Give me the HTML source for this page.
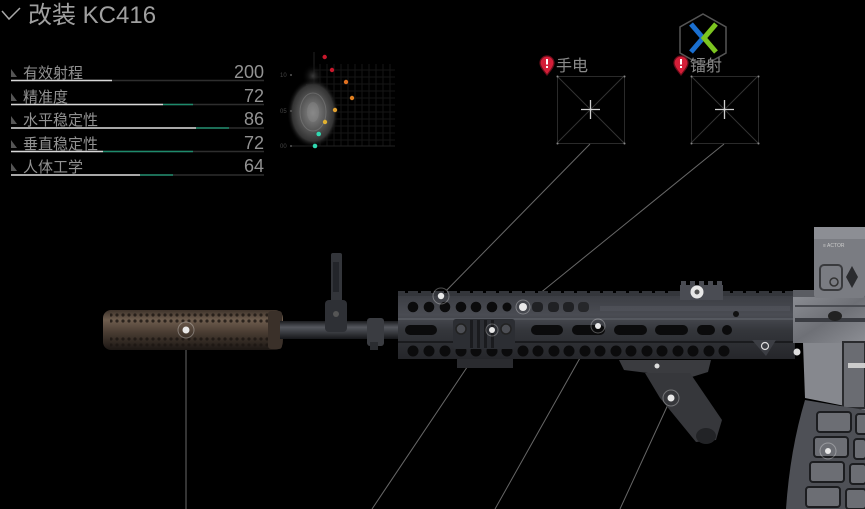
<!DOCTYPE html>
<html><head><meta charset="utf-8"><style>
html,body{margin:0;padding:0;background:#000;width:865px;height:509px;overflow:hidden}
svg{display:block}
</style></head><body>
<svg width="865" height="509" viewBox="0 0 865 509" xmlns="http://www.w3.org/2000/svg" font-family="'Liberation Sans','Noto Sans CJK SC',sans-serif">
<defs>
<linearGradient id="sup" x1="0" y1="0" x2="0" y2="1">
<stop offset="0" stop-color="#3e332b"/><stop offset="0.25" stop-color="#6e5d4e"/><stop offset="0.55" stop-color="#4a3d33"/><stop offset="1" stop-color="#1c1714"/></linearGradient>
<linearGradient id="brl" x1="0" y1="0" x2="0" y2="1">
<stop offset="0" stop-color="#1a1b1e"/><stop offset="0.35" stop-color="#55585e"/><stop offset="1" stop-color="#16171a"/></linearGradient>
<linearGradient id="hg" x1="0" y1="0" x2="0" y2="1">
<stop offset="0" stop-color="#3c3e44"/><stop offset="0.3" stop-color="#4a4c53"/><stop offset="0.55" stop-color="#34363b"/><stop offset="1" stop-color="#25262a"/></linearGradient>
<linearGradient id="rcv" x1="0" y1="0" x2="1" y2="1">
<stop offset="0" stop-color="#8a8c92"/><stop offset="0.5" stop-color="#6e7076"/><stop offset="1" stop-color="#8c8e94"/></linearGradient>
<pattern id="dots" width="6" height="6" patternUnits="userSpaceOnUse"><circle cx="3" cy="3" r="1.6" fill="#1c1612"/></pattern>
<radialGradient id="body" cx="0.5" cy="0.5" r="0.5">
<stop offset="0" stop-color="#8a8a8a"/><stop offset="0.45" stop-color="#5a5a5a"/><stop offset="0.8" stop-color="#333"/><stop offset="1" stop-color="#000" stop-opacity="0"/></radialGradient>
<radialGradient id="head" cx="0.5" cy="0.5" r="0.5">
<stop offset="0" stop-color="#3a3a3a"/><stop offset="1" stop-color="#000" stop-opacity="0"/></radialGradient>
</defs>

<!-- title -->
<polyline points="2,11 9,19 20,8" fill="none" stroke="#a8a8a8" stroke-width="1.5"/>
<text x="28" y="23" font-size="24" fill="#a0a0a0">改装 KC416</text>

<!-- stats -->
<g font-size="15" fill="#929292">
<g fill="#555">
<polygon points="11,69 11,77 17,77"/><polygon points="11,93 11,101 17,101"/><polygon points="11,116 11,124 17,124"/><polygon points="11,140 11,148 17,148"/><polygon points="11,163 11,171 17,171"/>
</g>
<text x="23" y="78">有效射程</text>
<text x="23" y="102">精准度</text>
<text x="23" y="125">水平稳定性</text>
<text x="23" y="149">垂直稳定性</text>
<text x="23" y="172">人体工学</text>
<g font-size="18" text-anchor="end">
<text x="264" y="78">200</text><text x="264" y="102">72</text><text x="264" y="125">86</text><text x="264" y="149">72</text><text x="264" y="172">64</text>
</g>
</g>
<g stroke-width="1.6">
<line x1="11" y1="80.5" x2="264" y2="80.5" stroke="#2e2e2e"/><line x1="11" y1="80.5" x2="112" y2="80.5" stroke="#d8d8d8"/>
<line x1="11" y1="104.5" x2="264" y2="104.5" stroke="#2e2e2e"/><line x1="11" y1="104.5" x2="163" y2="104.5" stroke="#d8d8d8"/><line x1="163" y1="104.5" x2="193" y2="104.5" stroke="#1e8a6c"/>
<line x1="11" y1="128" x2="264" y2="128" stroke="#2e2e2e"/><line x1="11" y1="128" x2="196" y2="128" stroke="#d8d8d8"/><line x1="196" y1="128" x2="229" y2="128" stroke="#1e8a6c"/>
<line x1="11" y1="151.5" x2="264" y2="151.5" stroke="#2e2e2e"/><line x1="11" y1="151.5" x2="103" y2="151.5" stroke="#d8d8d8"/><line x1="103" y1="151.5" x2="193" y2="151.5" stroke="#1e8a6c"/>
<line x1="11" y1="175" x2="264" y2="175" stroke="#2e2e2e"/><line x1="11" y1="175" x2="140" y2="175" stroke="#d8d8d8"/><line x1="140" y1="175" x2="173" y2="175" stroke="#1e8a6c"/>
</g>

<!-- recoil chart -->
<g stroke="#161616" stroke-width="1">
<line x1="320" y1="64" x2="320" y2="146"/><line x1="327" y1="64" x2="327" y2="146"/><line x1="334" y1="64" x2="334" y2="146"/><line x1="341" y1="64" x2="341" y2="146"/><line x1="348" y1="64" x2="348" y2="146"/><line x1="355" y1="64" x2="355" y2="146"/><line x1="362" y1="64" x2="362" y2="146"/><line x1="369" y1="64" x2="369" y2="146"/><line x1="376" y1="64" x2="376" y2="146"/><line x1="383" y1="64" x2="383" y2="146"/><line x1="390" y1="64" x2="390" y2="146"/>
<line x1="314" y1="70" x2="395" y2="70"/><line x1="314" y1="77" x2="395" y2="77"/><line x1="314" y1="84" x2="395" y2="84"/><line x1="314" y1="91" x2="395" y2="91"/><line x1="314" y1="98" x2="395" y2="98"/><line x1="314" y1="105" x2="395" y2="105"/><line x1="314" y1="112" x2="395" y2="112"/><line x1="314" y1="119" x2="395" y2="119"/><line x1="314" y1="126" x2="395" y2="126"/><line x1="314" y1="133" x2="395" y2="133"/><line x1="314" y1="140" x2="395" y2="140"/>
</g>
<line x1="314" y1="52" x2="314" y2="146" stroke="#222"/>
<line x1="291" y1="146" x2="395" y2="146" stroke="#222"/>
<ellipse cx="313" cy="76" rx="11" ry="12" fill="url(#head)"/>
<rect x="306" y="84" width="14" height="10" fill="#2a2a2a" opacity="0.6"/>
<ellipse cx="313" cy="113" rx="26" ry="35" fill="url(#body)"/>
<ellipse cx="313" cy="112" rx="13" ry="19" fill="none" stroke="#9a9a9a" stroke-width="1" opacity="0.35"/>
<ellipse cx="313" cy="112" rx="6" ry="10" fill="#888" opacity="0.45"/>
<g font-size="6" fill="#444"><text x="280" y="77">10</text><text x="280" y="113">05</text><text x="280" y="148">00</text></g>
<g fill="#555"><circle cx="291" cy="75" r="1"/><circle cx="291" cy="111" r="1"/><circle cx="291" cy="146" r="1"/></g>
<circle cx="324.7" cy="57" r="2.2" fill="#c8182c"/>
<circle cx="332" cy="70" r="2.2" fill="#c8182c"/>
<circle cx="346" cy="82" r="2.2" fill="#e07020"/>
<circle cx="352" cy="98" r="2.2" fill="#e08020"/>
<circle cx="335" cy="110" r="2.2" fill="#e0a030"/>
<circle cx="325" cy="122" r="2.2" fill="#e0b030"/>
<circle cx="318.7" cy="134" r="2.3" fill="#30d8b0"/>
<circle cx="315" cy="146" r="2.3" fill="#30d8b0"/>

<!-- logo watermark -->
<polygon points="703,14 726,27 726,53 703,66 680,53 680,27" fill="none" stroke="#555" stroke-width="1.5"/>
<polyline points="691,24 703,38 691,52" fill="none" stroke="#1a6fd0" stroke-width="5"/>
<polyline points="716,24 704,38 716,52" fill="none" stroke="#7cc520" stroke-width="5"/>

<!-- slots -->
<g stroke="#333" stroke-width="1"><line x1="557" y1="76" x2="624" y2="143"/><line x1="624" y1="76" x2="557" y2="143"/><line x1="691" y1="76" x2="758" y2="143"/><line x1="758" y1="76" x2="691" y2="143"/></g>
<rect x="557.5" y="76.5" width="67" height="67" fill="none" stroke="#2a2a2a"/>
<rect x="691.5" y="76.5" width="67" height="67" fill="none" stroke="#2a2a2a"/>
<g fill="#888"><circle cx="557.5" cy="76.5" r="1"/><circle cx="624.5" cy="76.5" r="1"/><circle cx="557.5" cy="143.5" r="1"/><circle cx="624.5" cy="143.5" r="1"/><circle cx="691.5" cy="76.5" r="1"/><circle cx="758.5" cy="76.5" r="1"/><circle cx="691.5" cy="143.5" r="1"/><circle cx="758.5" cy="143.5" r="1"/></g>
<g stroke="#cfcfcf" stroke-width="1.3"><line x1="581" y1="109.5" x2="600" y2="109.5"/><line x1="590.5" y1="100" x2="590.5" y2="119"/><line x1="715" y1="109.5" x2="734" y2="109.5"/><line x1="724.5" y1="100" x2="724.5" y2="119"/></g>
<g font-size="16" fill="#8a8a8a"><text x="556" y="71">手电</text><text x="690" y="71">镭射</text></g>
<g>
<path d="M547,56 a7,7 0 0 1 7,7 c0,4 -4,8 -7,12 c-3,-4 -7,-8 -7,-12 a7,7 0 0 1 7,-7z" fill="#d41e38" stroke="#6a0d1a" stroke-width="1.2"/>
<rect x="546" y="59" width="2" height="5.5" fill="#fff"/><rect x="546" y="66" width="2" height="2" fill="#fff"/>
<path d="M681,56 a7,7 0 0 1 7,7 c0,4 -4,8 -7,12 c-3,-4 -7,-8 -7,-12 a7,7 0 0 1 7,-7z" fill="#d41e38" stroke="#6a0d1a" stroke-width="1.2"/>
<rect x="680" y="59" width="2" height="5.5" fill="#fff"/><rect x="680" y="66" width="2" height="2" fill="#fff"/>
</g>

<!-- connector lines -->
<g stroke="#8a8a8a" stroke-width="1" opacity="0.75">
<line x1="590" y1="144" x2="441" y2="296"/>
<line x1="724" y1="144" x2="523" y2="307"/>
<line x1="186" y1="330" x2="186" y2="509"/>
<line x1="492" y1="330" x2="372" y2="509"/>
<line x1="598" y1="326" x2="495" y2="509"/>
<line x1="671" y1="398" x2="620" y2="509"/>
</g>

<!-- suppressor -->
<rect x="103" y="310" width="180" height="40" rx="8" fill="url(#sup)"/>
<rect x="110" y="313" width="158" height="10" fill="url(#dots)" opacity="0.8"/>
<rect x="110" y="335" width="158" height="12" fill="url(#dots)" opacity="0.8"/>
<rect x="268" y="311" width="14" height="38" rx="3" fill="#3a3029"/>
<!-- barrel -->
<rect x="280" y="321" width="122" height="18" fill="url(#brl)"/>
<!-- front sight -->
<rect x="331" y="253" width="11" height="54" rx="2" fill="#33353a"/>
<rect x="333" y="262" width="6" height="30" fill="#23252a"/>
<rect x="325" y="300" width="22" height="32" rx="4" fill="#2e3035"/>
<circle cx="336" cy="314" r="3" fill="#555"/>
<rect x="367" y="318" width="17" height="28" rx="3" fill="#3a3c41"/>
<rect x="370" y="342" width="8" height="8" fill="#2a2c30"/>

<!-- handguard -->
<rect x="398" y="291" width="400" height="5" fill="#34363b"/>
<g fill="#000">
<rect x="405" y="290" width="3" height="3"/><rect x="418" y="290" width="3" height="3"/><rect x="431" y="290" width="3" height="3"/><rect x="444" y="290" width="3" height="3"/><rect x="457" y="290" width="3" height="3"/><rect x="470" y="290" width="3" height="3"/><rect x="483" y="290" width="3" height="3"/><rect x="496" y="290" width="3" height="3"/><rect x="509" y="290" width="3" height="3"/><rect x="522" y="290" width="3" height="3"/><rect x="535" y="290" width="3" height="3"/><rect x="548" y="290" width="3" height="3"/><rect x="561" y="290" width="3" height="3"/><rect x="574" y="290" width="3" height="3"/><rect x="587" y="290" width="3" height="3"/><rect x="600" y="290" width="3" height="3"/><rect x="613" y="290" width="3" height="3"/><rect x="626" y="290" width="3" height="3"/><rect x="639" y="290" width="3" height="3"/><rect x="652" y="290" width="3" height="3"/><rect x="665" y="290" width="3" height="3"/><rect x="730" y="290" width="3" height="3"/><rect x="743" y="290" width="3" height="3"/><rect x="756" y="290" width="3" height="3"/><rect x="769" y="290" width="3" height="3"/><rect x="782" y="290" width="3" height="3"/>
</g>
<rect x="398" y="296" width="397" height="63" fill="url(#hg)"/>
<rect x="398" y="318" width="397" height="2" fill="#5c5f66" opacity="0.7"/>
<rect x="398" y="341" width="397" height="2" fill="#1a1b1e"/>
<rect x="600" y="306" width="190" height="5" fill="#55585f" opacity="0.5"/>
<g fill="#0b0b0c">
<circle cx="413" cy="307" r="5.3"/><circle cx="429" cy="307" r="5.3"/><circle cx="445" cy="307" r="5.3"/><circle cx="461" cy="307" r="5.3"/><circle cx="476" cy="307" r="5.3"/><circle cx="492" cy="307" r="5.3"/><circle cx="507" cy="307" r="4.5"/>
<rect x="532" y="302" width="11" height="10" rx="4" fill="#202124"/><rect x="548" y="302" width="11" height="10" rx="4" fill="#202124"/><rect x="563" y="302" width="11" height="10" rx="4" fill="#202124"/><rect x="578" y="302" width="11" height="10" rx="4" fill="#26272a"/>
<rect x="405" y="325" width="32" height="10" rx="5"/>
<rect x="531" y="325" width="32" height="10" rx="5"/><rect x="572" y="325" width="33" height="10" rx="5"/><rect x="614" y="325" width="33" height="10" rx="5"/><rect x="655" y="325" width="33" height="10" rx="5"/><rect x="697" y="325" width="18" height="10" rx="5"/>
<circle cx="727" cy="330" r="5"/>
<circle cx="413" cy="351" r="5.5"/><circle cx="429" cy="351" r="5.5"/><circle cx="445" cy="351" r="5.5"/><circle cx="461" cy="351" r="5.5"/><circle cx="476" cy="351" r="5.5"/><circle cx="492" cy="351" r="5.5"/><circle cx="507" cy="351" r="5.5"/><circle cx="523" cy="351" r="5.5"/><circle cx="538" cy="351" r="5.5"/><circle cx="554" cy="351" r="5.5"/><circle cx="569" cy="351" r="5.5"/><circle cx="585" cy="351" r="5.5"/><circle cx="600" cy="351" r="5.5"/><circle cx="616" cy="351" r="5.5"/><circle cx="631" cy="351" r="5.5"/><circle cx="647" cy="351" r="5.5"/><circle cx="662" cy="351" r="5.5"/><circle cx="678" cy="351" r="5.5"/><circle cx="693" cy="351" r="5.5"/><circle cx="709" cy="351" r="5.5"/><circle cx="724" cy="351" r="5.5"/>
</g>
<circle cx="736" cy="314" r="3" fill="#111"/>
<!-- mount block -->
<rect x="453" y="319" width="62" height="30" rx="3" fill="#2c2e33"/>
<g fill="#1a1b1e"><rect x="470" y="320" width="3" height="28"/><rect x="477" y="320" width="3" height="28"/><rect x="484" y="320" width="3" height="28"/><rect x="491" y="320" width="3" height="28"/></g>
<circle cx="461" cy="329" r="5" fill="#4c4e54" stroke="#222" stroke-width="1.5"/>
<circle cx="506" cy="329" r="5" fill="#4c4e54" stroke="#222" stroke-width="1.5"/>
<rect x="457" y="359" width="56" height="9" fill="#2a2b2f"/>
<!-- rail piece on top -->
<rect x="680" y="285" width="43" height="15" fill="#4a4c53"/>
<g fill="#4a4c53"><rect x="681" y="281" width="5" height="5"/><rect x="690" y="281" width="5" height="5"/><rect x="699" y="281" width="5" height="5"/><rect x="708" y="281" width="5" height="5"/><rect x="717" y="281" width="5" height="5"/></g>
<circle cx="697" cy="292" r="6.5" fill="#e8e8e8"/><circle cx="697" cy="292" r="2.5" fill="#555"/>
<!-- bracket -->
<polygon points="752,340 776,340 766,356" fill="#3c3e44"/>
<circle cx="765" cy="346" r="3.5" fill="none" stroke="#ddd" stroke-width="1.2"/>

<!-- grip -->
<polygon points="619,360 711,360 708,372 682,380 648,373 624,370" fill="#3a3b3f"/>
<polygon points="645,373 690,373 722,420 716,440 696,442 660,398" fill="#36373b"/>
<ellipse cx="706" cy="436" rx="10" ry="8" fill="#222326"/>
<circle cx="657" cy="366" r="2.5" fill="#ddd"/>

<!-- receiver -->
<rect x="793" y="290" width="72" height="7" fill="#5a5c62"/>
<rect x="793" y="297" width="72" height="46" fill="url(#rcv)"/>
<rect x="795" y="318" width="70" height="4" fill="#3a3c42"/>
<rect x="795" y="305" width="70" height="2" fill="#4a4c52"/>
<ellipse cx="835" cy="316" rx="7" ry="5" fill="#222"/>
<polygon points="803,343 865,343 865,410 805,398" fill="#86888e"/>
<rect x="843" y="342" width="22" height="66" fill="#6a6c72" stroke="#2a2b2e" stroke-width="2"/>
<rect x="848" y="363" width="17" height="5" fill="#ccc"/>
<circle cx="797" cy="352" r="3.5" fill="#ddd"/>
<!-- sight -->
<rect x="814" y="227" width="51" height="71" rx="3" fill="#7a7c82"/>
<rect x="814" y="227" width="51" height="12" fill="#8c8e94"/>
<rect x="820" y="265" width="22" height="25" rx="4" fill="none" stroke="#3a3b3e" stroke-width="2"/>
<polygon points="846,277 852,266 858,277 852,288" fill="#2a2b2e"/>
<circle cx="834" cy="282" r="4" fill="none" stroke="#333" stroke-width="1.5"/>
<text x="823" y="247" font-size="5" fill="#ccc">≡ ACTOR</text>
<!-- magazine -->
<path d="M805,400 L865,410 L865,509 L786,509 Q790,450 805,400 Z" fill="#4e5056"/>
<g fill="#6c6e74" stroke="#1c1d20" stroke-width="2">
<rect x="817" y="412" width="34" height="20" rx="3"/><rect x="856" y="414" width="12" height="20" rx="3"/>
<rect x="814" y="437" width="34" height="20" rx="3"/><rect x="854" y="439" width="12" height="20" rx="3"/>
<rect x="810" y="462" width="34" height="20" rx="3"/><rect x="850" y="464" width="16" height="20" rx="3"/>
<rect x="806" y="487" width="34" height="20" rx="3"/><rect x="846" y="489" width="20" height="20" rx="3"/>
</g>

<!-- markers -->
<g fill="none" stroke="#ffffff" stroke-opacity="0.3" stroke-width="1">
<circle cx="186" cy="330" r="8"/><circle cx="441" cy="296" r="8"/><circle cx="523" cy="307" r="7"/><circle cx="598" cy="326" r="7"/><circle cx="671" cy="398" r="8"/><circle cx="828" cy="451" r="8"/><circle cx="492" cy="330" r="6"/>
</g>
<g fill="#e8e8e8">
<circle cx="186" cy="330" r="3.5"/><circle cx="441" cy="296" r="3.2"/><circle cx="523" cy="307" r="4"/><circle cx="598" cy="326" r="3"/><circle cx="671" cy="398" r="3.5"/><circle cx="828" cy="451" r="3"/><circle cx="492" cy="330" r="3"/>
</g>
</svg>
</body></html>
